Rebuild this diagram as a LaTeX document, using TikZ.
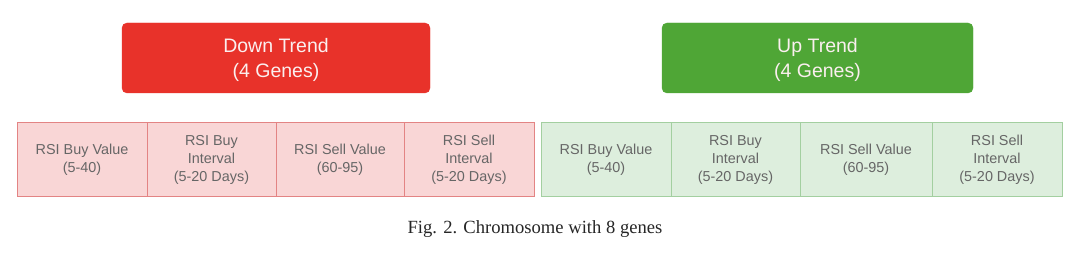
\documentclass[tikz,border=0pt]{standalone}
\usepackage{fontspec}
\setmainfont{Liberation Sans}
\newfontfamily\capfont{Liberation Serif}
\definecolor{hdred}{HTML}{E8322A}
\definecolor{hdgreen}{HTML}{4FA636}
\definecolor{cellred}{HTML}{F9D6D6}
\definecolor{edgered}{HTML}{E38484}
\definecolor{cellgreen}{HTML}{DDEEDD}
\definecolor{edgegreen}{HTML}{A3CFA0}
\definecolor{celltext}{HTML}{666666}
\definecolor{headtext}{HTML}{FBEFEF}
\begin{document}
\begin{tikzpicture}[x=1pt,y=-1pt,
  header/.style={rounded corners=5pt, text=headtext, font=\fontsize{19.5}{25}\selectfont, align=center},
  gene/.style={line width=1pt, text=celltext, font=\fontsize{14.4}{18}\selectfont, align=center},
  redgene/.style={gene, fill=cellred, draw=edgered},
  greengene/.style={gene, fill=cellgreen, draw=edgegreen}]
\useasboundingbox (0,0) rectangle (1080,259);
% headers
\filldraw[hdred, rounded corners=5pt] (122,23) rectangle (430,93);
\node[header] (down) at (276,59.5) {Down Trend\\(4 Genes)};
\filldraw[hdgreen, rounded corners=5pt] (662,23) rectangle (973,93);
\node[header] (up) at (817.5,59.5) {Up Trend\\(4 Genes)};
% red genes
\draw[redgene] (17,123) rectangle (147,197);
\draw[redgene] (147,123) rectangle (276,197);
\draw[redgene] (276,123) rectangle (404,197);
\draw[redgene] (404,123) rectangle (534,197);
\node[gene] (r1) at (82,160) {RSI Buy Value\\(5-40)};
\node[gene] (r2) at (211.5,160) {RSI Buy\\Interval\\(5-20 Days)};
\node[gene] (r3) at (340,160) {RSI Sell Value\\(60-95)};
\node[gene] (r4) at (469,160) {RSI Sell\\Interval\\(5-20 Days)};
% green genes
\draw[greengene] (541,123) rectangle (671,197);
\draw[greengene] (671,123) rectangle (800,197);
\draw[greengene] (800,123) rectangle (932,197);
\draw[greengene] (932,123) rectangle (1062,197);
\node[gene] (g1) at (606,160) {RSI Buy Value\\(5-40)};
\node[gene] (g2) at (735.5,160) {RSI Buy\\Interval\\(5-20 Days)};
\node[gene] (g3) at (866,160) {RSI Sell Value\\(60-95)};
\node[gene] (g4) at (997,160) {RSI Sell\\Interval\\(5-20 Days)};
% caption
\node[text=black!85, font=\capfont\fontsize{18.6}{22}\selectfont] (cap) at (535,229.5) {Fig. 2. Chromosome with 8 genes};
\end{tikzpicture}
\end{document}
